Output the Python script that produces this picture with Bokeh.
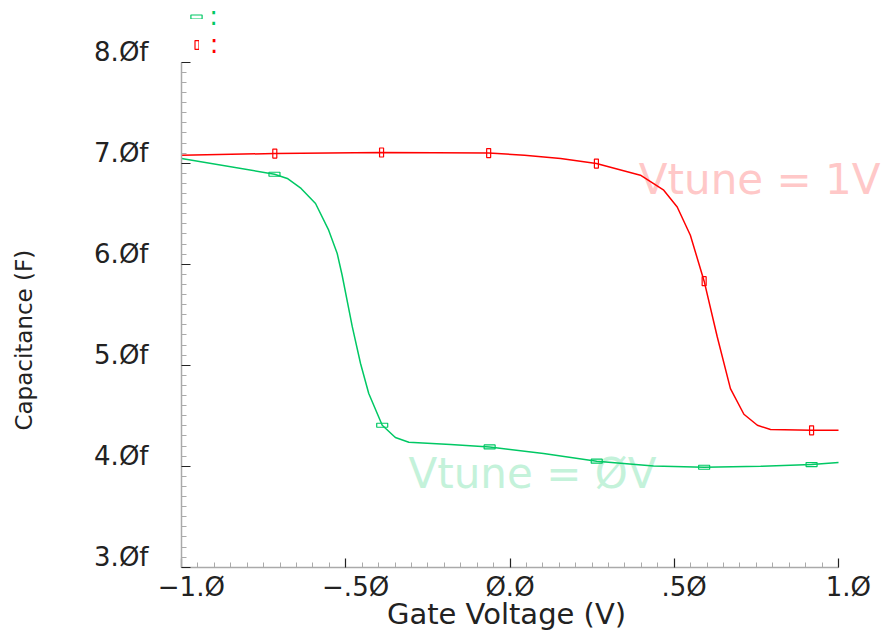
import math
import numpy as np
from bokeh.plotting import figure
from bokeh.models import Range1d, FixedTicker, Label, Legend, LegendItem, LinearAxis
from bokeh.embed import file_html
from bokeh.resources import INLINE

# ---- data ----
v0_x = [-1.0, -0.717, -0.678, -0.636, -0.592, -0.552, -0.526, -0.511, -0.480, -0.455, -0.430,
        -0.389, -0.349, -0.308, -0.181, -0.062, 0.102, 0.264, 0.437, 0.591, 0.763, 0.918, 1.0]
v0_c = [7.047, 6.891, 6.849, 6.750, 6.601, 6.337, 6.106, 5.891, 5.379, 5.017, 4.720,
        4.406, 4.284, 4.238, 4.215, 4.191, 4.126, 4.050, 4.003, 3.990, 4.000, 4.017, 4.037]
v1_x = [-1.0, -0.716, -0.391, -0.065, 0.044, 0.154, 0.263, 0.397, 0.468, 0.509, 0.549,
        0.591, 0.631, 0.671, 0.712, 0.753, 0.793, 0.918, 1.0]
v1_c = [7.079, 7.096, 7.106, 7.100, 7.080, 7.047, 6.997, 6.881, 6.733, 6.567, 6.287,
        5.832, 5.280, 4.769, 4.515, 4.406, 4.363, 4.356, 4.356]

v0_mx = [-0.717, -0.389, -0.062, 0.264, 0.591, 0.918]
v0_mc = [6.891, 4.406, 4.191, 4.050, 3.990, 4.017]
v1_mx = [-0.716, -0.391, -0.065, 0.263, 0.591, 0.918]
v1_mc = [7.096, 7.106, 7.100, 6.997, 5.832, 4.356]

x_ticks = [-1.0, -0.5, 0.0, 0.5, 1.0]
x_tick_labels = ["\u22121.\u00d8", "\u2212.5\u00d8", "\u00d8.\u00d8", ".5\u00d8", "1.\u00d8"]
y_ticks = [3, 4, 5, 6, 7, 8]
y_tick_labels = ["3.\u00d8f", "4.\u00d8f", "5.\u00d8f", "6.\u00d8f", "7.\u00d8f", "8.\u00d8f"]

x_title = "Gate Voltage (V)"
y_title = "Capacitance (F)"
ann_text = ["Vtune = 1V", "Vtune = \u00d8V"]
ann_x = [0.760, 0.0685]
ann_y = [6.842, 3.931]

GREEN = "#00c864"
RED = "#ff0000"
FONT = "DejaVu Sans"
INK = "#222222"
RULE = "#aaaaaa"

# axis extents (data) and the whole window as the frame
X0, X1 = -1.0, 1.0
Y0, Y1 = 3.0, 8.0
XS, XE = -1.551, 1.140
YS, YE = 2.354, 8.611
LBL_DY = 0.1    # y tick labels sit on top of their ticks
LBL_DX = 0.03   # most x tick labels sit a little right of their ticks

p = figure(width=884, height=632, x_range=Range1d(XS, XE), y_range=Range1d(YS, YE),
           output_backend="svg", toolbar_location=None,
           x_axis_location=None, y_axis_location=None,
           min_border_left=0, min_border_right=0, min_border_top=0, min_border_bottom=0)
p.grid.visible = False
p.outline_line_color = None
p.background_fill_color = "white"
p.border_fill_color = "white"
p.extra_y_ranges = {"ylbl": Range1d(YS - LBL_DY, YE - LBL_DY)}
p.extra_x_ranges = {"xlbl": Range1d(XS - LBL_DX, XE - LBL_DX)}

r0 = p.line(v0_x, v0_c, line_color=GREEN, line_width=1.5)
r1 = p.line(v1_x, v1_c, line_color=RED, line_width=1.5)
m0 = p.rect(v0_mx, v0_mc, width=11, height=4, width_units="screen", height_units="screen",
            fill_color=None, line_color=GREEN, line_width=1.2)
m1 = p.rect(v1_mx, v1_mc, width=4, height=9, width_units="screen", height_units="screen",
            fill_color=None, line_color=RED, line_width=1.2)

x_minor = [round(v, 3) for v in np.arange(X0, X1 + 1e-4, 0.05)]
y_minor = [round(v, 2) for v in np.arange(Y0, Y1 + 1e-4, 0.1)]

label_style = dict(axis_line_color=None, major_tick_line_color=None,
                   major_tick_in=0, major_tick_out=0,
                   major_label_text_font=FONT, major_label_text_font_size="26px",
                   major_label_text_color=INK)

# ---- y axis: rule + minor ticks, major ticks, shifted labels ----
ya_rule = LinearAxis(fixed_location=X0, bounds=(Y0, Y1),
                     ticker=FixedTicker(ticks=[], minor_ticks=y_minor),
                     axis_line_color=RULE, axis_line_width=1.5,
                     minor_tick_in=5, minor_tick_out=0, minor_tick_line_color=RULE)
ya_major = LinearAxis(fixed_location=X0, bounds=(Y0, Y1),
                      ticker=FixedTicker(ticks=[], minor_ticks=y_ticks),
                      axis_line_color=None, minor_tick_in=9, minor_tick_out=0,
                      minor_tick_line_color=INK, minor_tick_line_width=1.2)
ya_lbl = LinearAxis(y_range_name="ylbl", fixed_location=X0,
                    ticker=FixedTicker(ticks=y_ticks, minor_ticks=[]),
                    major_label_overrides=dict(zip(y_ticks, y_tick_labels)),
                    major_label_standoff=33, **label_style)
for ax in (ya_rule, ya_major, ya_lbl):
    p.add_layout(ax, "left")

# ---- x axis ----
xa_rule = LinearAxis(fixed_location=Y0, bounds=(X0, X1),
                     ticker=FixedTicker(ticks=[], minor_ticks=x_minor),
                     axis_line_color=RULE, axis_line_width=1.5,
                     minor_tick_in=5, minor_tick_out=0, minor_tick_line_color=RULE)
xa_major = LinearAxis(fixed_location=Y0, bounds=(X0, X1),
                      ticker=FixedTicker(ticks=[], minor_ticks=x_ticks),
                      axis_line_color=None, minor_tick_in=9, minor_tick_out=0,
                      minor_tick_line_color=INK, minor_tick_line_width=1.2)
x_shift_ticks = [t for t in x_ticks if t != 0.0]
x_center_ticks = [t for t in x_ticks if t == 0.0]
xlab = dict(zip(x_ticks, x_tick_labels))
xa_lbl = LinearAxis(x_range_name="xlbl", fixed_location=Y0,
                    ticker=FixedTicker(ticks=x_shift_ticks, minor_ticks=[]),
                    major_label_overrides={t: xlab[t] for t in x_shift_ticks},
                    major_label_standoff=5, **label_style)
xa_lbl0 = LinearAxis(fixed_location=Y0,
                     ticker=FixedTicker(ticks=x_center_ticks, minor_ticks=[]),
                     major_label_overrides={t: xlab[t] for t in x_center_ticks},
                     major_label_standoff=5, **label_style)
for ax in (xa_rule, xa_major, xa_lbl, xa_lbl0):
    p.add_layout(ax, "below")

# ---- axis titles ----
p.add_layout(Label(x=-0.0107, y=2.540, text=x_title, text_align="center",
                   text_baseline="middle", text_font=FONT, text_font_size="29px",
                   text_color=INK))
p.add_layout(Label(x=-1.478, y=5.248, text=y_title, angle=math.pi / 2, text_align="center",
                   text_baseline="middle", text_font=FONT, text_font_size="23px",
                   text_color=INK))

# ---- curve annotations (drawn beneath the curves) ----
for t, xx, yy, col in zip(ann_text, ann_x, ann_y, ["#ffc8c8", "#c4f2da"]):
    p.add_layout(Label(x=xx, y=yy, text=t, text_align="center", text_baseline="middle",
                       text_font=FONT, text_font_size="42px", text_color=col,
                       level="underlay"))

# ---- marker-only legends at the top ----
leg0 = Legend(items=[LegendItem(label=":", renderers=[m0])], location=(189.3, 601),
              border_line_color=None, background_fill_alpha=0, padding=0, margin=0, spacing=0,
              glyph_width=14, glyph_height=5, label_standoff=6, label_text_font=FONT,
              label_text_font_size="26px", label_text_color=GREEN)
leg1 = Legend(items=[LegendItem(label=":", renderers=[m1])], location=(193.8, 573),
              border_line_color=None, background_fill_alpha=0, padding=0, margin=0, spacing=0,
              glyph_width=5, glyph_height=11, label_standoff=11, label_text_font=FONT,
              label_text_font_size="26px", label_text_color=RED)
p.add_layout(leg0)
p.add_layout(leg1)

open("out.html", "w").write(file_html(p, INLINE))
